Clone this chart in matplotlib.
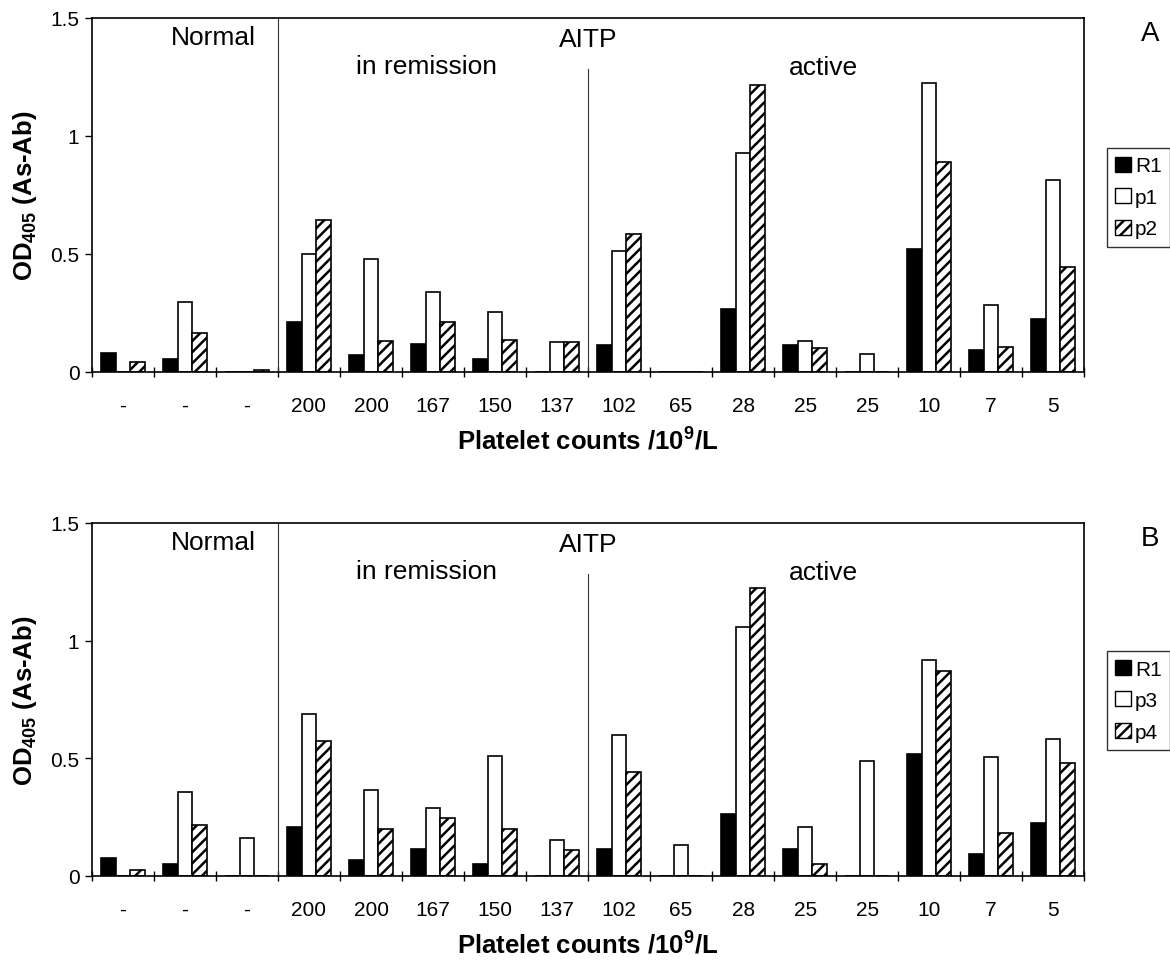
import numpy as np
import matplotlib
matplotlib.use('Agg')
import matplotlib.pyplot as plt
from matplotlib.patches import Patch

plt.rcParams['font.family'] = ['Liberation Sans', 'DejaVu Sans']
plt.rcParams['mathtext.fontset'] = 'custom'
plt.rcParams['mathtext.rm'] = 'Liberation Sans'
plt.rcParams['mathtext.bf'] = 'Liberation Sans:bold'
plt.rcParams['hatch.linewidth'] = 1.8

# platelet counts for each sample
counts = ['-', '-', '-', '200', '200', '167', '150', '137',
          '102', '65', '28', '25', '25', '10', '7', '5']

# panel A
r1_a = [0.08, 0.054, 0.0, 0.21, 0.07, 0.12, 0.054, 0.0,
        0.115, 0.0, 0.266, 0.115, 0.0, 0.522, 0.092, 0.224]
p1_a = [0.0, 0.298, 0.0, 0.50, 0.48, 0.34, 0.253, 0.125,
        0.513, 0.0, 0.928, 0.132, 0.078, 1.224, 0.284, 0.814]
p2_a = [0.044, 0.165, 0.008, 0.645, 0.13, 0.213, 0.136, 0.125,
        0.585, 0.0, 1.216, 0.10, 0.0, 0.889, 0.107, 0.443]

# panel B
r1_b = [0.078, 0.052, 0.0, 0.206, 0.068, 0.116, 0.052, 0.0,
        0.113, 0.0, 0.262, 0.113, 0.0, 0.518, 0.095, 0.227]
p3_b = [0.0, 0.357, 0.163, 0.688, 0.365, 0.29, 0.51, 0.152,
        0.60, 0.13, 1.057, 0.21, 0.49, 0.919, 0.504, 0.584]
p4_b = [0.024, 0.216, 0.0, 0.574, 0.20, 0.248, 0.20, 0.109,
        0.443, 0.0, 1.223, 0.052, 0.0, 0.872, 0.184, 0.482]


def draw_panel(ax, r1, pa, pb, names, letter, leg_y):
    x = np.arange(len(counts))
    w = 0.235
    ax.bar(x - w, r1, w, color='black', edgecolor='black', lw=1.2)
    ax.bar(x, pa, w, color='white', edgecolor='black', lw=1.2)
    ax.bar(x + w, pb, w, color='white', edgecolor='black', lw=1.2, hatch='///')

    ax.set_xlim(-0.5, len(counts) - 0.5)
    ax.set_ylim(0, 1.5)
    ax.set_yticks([0, 0.5, 1, 1.5])
    ax.set_yticklabels(['0', '0.5', '1', '1.5'])
    ax.set_xticks(x)
    ax.set_xticklabels(counts)
    ax.set_xticks(np.arange(-0.5, len(counts)), minor=True)
    ax.tick_params(axis='x', which='major', length=0, pad=17, labelsize=15)
    ax.tick_params(axis='x', which='minor', length=7, direction='inout', width=1)
    ax.tick_params(axis='y', length=5, width=1, direction='out', pad=4, labelsize=15)
    for s in ax.spines.values():
        s.set_linewidth(1.2)

    ax.axvline(2.5, 0, 1, color='#333333', lw=0.8)
    ax.axvline(7.5, 0, 0.856, color='#333333', lw=0.8)
    ax.text(1.45, 0.945, 'Normal', transform=ax.get_xaxis_transform(),
            ha='center', va='center', fontsize=19)
    ax.text(7.5, 0.94, 'AITP', transform=ax.get_xaxis_transform(),
            ha='center', va='center', fontsize=19)
    ax.text(4.9, 0.865, 'in remission', transform=ax.get_xaxis_transform(),
            ha='center', va='center', fontsize=19)
    ax.text(11.3, 0.862, 'active', transform=ax.get_xaxis_transform(),
            ha='center', va='center', fontsize=19)

    ax.set_ylabel(r'OD$_{\mathbf{405}}$ (As-Ab)', fontsize=18.5, fontweight='bold', labelpad=8)
    ax.set_xlabel(r'Platelet counts /10$^{\mathbf{9}}$/L', fontsize=18.5,
                  fontweight='bold', labelpad=8)

    handles = [Patch(facecolor='black', edgecolor='black', label='R1'),
               Patch(facecolor='white', edgecolor='black', label=names[0]),
               Patch(facecolor='white', edgecolor='black', hatch='///', label=names[1])]
    fig.legend(handles=handles, loc='upper left', bbox_to_anchor=(0.946, leg_y),
               fontsize=15, frameon=True, fancybox=False, edgecolor='black',
               handlelength=0.75, handleheight=0.75, handletextpad=0.2,
               labelspacing=0.6, borderpad=0.4, borderaxespad=0)
    fig.text(0.983, ax.get_position().y1 - 0.016, letter, fontsize=20,
             ha='center', va='center')


fig = plt.figure(figsize=(11.7, 9.62), dpi=100)
ax_a = fig.add_axes([0.0786, 0.6123, 0.848, 0.368])
ax_b = fig.add_axes([0.0786, 0.0884, 0.848, 0.367])

draw_panel(ax_a, r1_a, p1_a, p2_a, ['p1', 'p2'], 'A', 0.845)
draw_panel(ax_b, r1_b, p3_b, p4_b, ['p3', 'p4'], 'B', 0.322)

fig.savefig('out.png', dpi=100)
